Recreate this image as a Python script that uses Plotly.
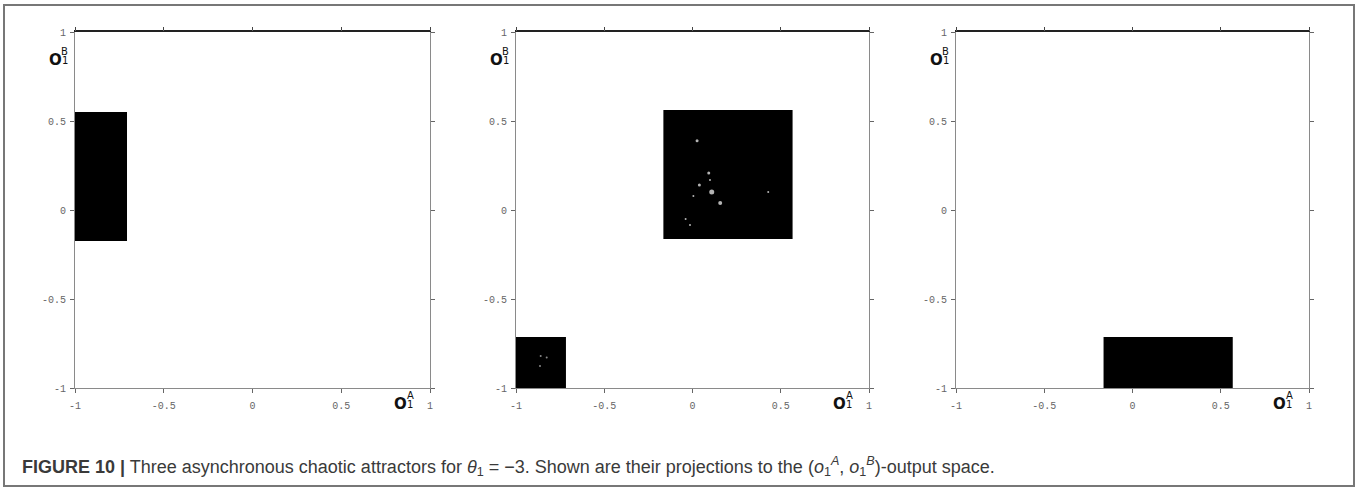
import plotly.graph_objects as go

# ---- data ----
tick_vals = [-1, -0.5, 0, 0.5, 1]
tick_text = ["-1", "-0.5", "0", "0.5", "1"]

# attractor regions per panel: (x_min, x_max, y_min, y_max)
panel1_x = [[-1.0, -0.707]]
panel1_y = [[-0.174, 0.551]]
panel2_x = [[-0.165, 0.567], [-1.0, -0.717]]
panel2_y = [[-0.163, 0.562], [-1.0, -0.713]]
panel3_x = [[-0.164, 0.568]]
panel3_y = [[-1.0, -0.713]]

# white gaps (unvisited points) inside panel 2 attractors
gaps2_x = [0.026, 0.092, 0.099, 0.039, 0.109, 0.005, 0.157, -0.039, -0.014, 0.429]
gaps2_y = [0.389, 0.208, 0.169, 0.140, 0.101, 0.079, 0.039, -0.051, -0.084, 0.101]
gaps2_s = [3, 3, 2, 3, 5, 2, 4, 2, 2, 2]
gaps2b_x = [-0.860, -0.826, -0.864]
gaps2b_y = [-0.820, -0.828, -0.876]

caption_bold = "FIGURE 10 |"
caption_text = (" Three asynchronous chaotic attractors for <i>θ</i><sub>1</sub> = −3. "
                "Shown are their projections to the (<i>o</i><sub>1</sub><sup><i>A</i></sup>, "
                "<i>o</i><sub>1</sub><sup><i>B</i></sup>)-output space.")

W, H = 1359, 492
fig = go.Figure()

panels = [(panel1_x, panel1_y), (panel2_x, panel2_y), (panel3_x, panel3_y)]
for i, (px, py) in enumerate(panels):
    xa = "x" if i == 0 else f"x{i+1}"
    ya = "y" if i == 0 else f"y{i+1}"
    for rx, ry in zip(px, py):
        fig.add_trace(go.Scatter(
            x=[rx[0], rx[1], rx[1], rx[0], rx[0]],
            y=[ry[0], ry[0], ry[1], ry[1], ry[0]],
            fill="toself", fillcolor="black", mode="lines",
            line=dict(width=0, color="black"),
            xaxis=xa, yaxis=ya, showlegend=False, hoverinfo="skip"))

fig.add_trace(go.Scatter(x=gaps2_x, y=gaps2_y, mode="markers",
                         marker=dict(color="white", size=gaps2_s, line=dict(width=0)),
                         xaxis="x2", yaxis="y2", showlegend=False, hoverinfo="skip"))
fig.add_trace(go.Scatter(x=gaps2b_x, y=gaps2b_y, mode="markers",
                         marker=dict(color="#888", size=2, line=dict(width=0)),
                         xaxis="x2", yaxis="y2", showlegend=False, hoverinfo="skip"))

# panel pixel geometry
px_left = [75, 516, 956]
px_right = [430, 869, 1309]
top_px, bot_px = 32, 388
ydom = [1 - bot_px / H, 1 - top_px / H]

tickfont = dict(family="Liberation Mono", size=10, color="#666")
axis_common = dict(range=[-1, 1], tickvals=tick_vals, ticktext=tick_text,
                   showgrid=False, zeroline=False, showline=True,
                   linecolor="#8a8a8a", linewidth=1, ticks="outside",
                   ticklen=4, tickcolor="#666", tickwidth=1, tickfont=tickfont,
                   fixedrange=True, automargin=False)

layout = dict(width=W, height=H, margin=dict(l=0, r=0, t=0, b=0, autoexpand=False),
              paper_bgcolor="white", plot_bgcolor="white", showlegend=False,
              template="none")

for i in range(3):
    sx = "" if i == 0 else str(i + 1)
    xd = [px_left[i] / W, px_right[i] / W]
    layout[f"xaxis{sx}"] = dict(axis_common, domain=xd, anchor=f"y{sx}", mirror="ticks",
                                ticklabelstandoff=4)
    layout[f"yaxis{sx}"] = dict(axis_common, domain=ydom, anchor=f"x{sx}", mirror="ticks",
                                ticklabelstandoff=2)

# darker top axis lines (overlay axes)
for i in range(3):
    sx = "" if i == 0 else str(i + 1)
    n = 4 + i
    xd = [px_left[i] / W, px_right[i] / W]
    layout[f"xaxis{n}"] = dict(range=[-1, 1], domain=xd, overlaying=f"x{sx}",
                               anchor=f"y{sx}", side="top", showline=True,
                               linecolor="#222", linewidth=1.5, showgrid=False,
                               zeroline=False, tickvals=tick_vals, ticks="outside",
                               ticklen=3, tickcolor="#444", showticklabels=False,
                               fixedrange=True, automargin=False)
    fig.add_trace(go.Scatter(x=[None], y=[None], xaxis=f"x{n}", yaxis=f"y{sx}",
                             showlegend=False, hoverinfo="skip"))

fig.update_layout(**layout)


def pt(px_, py_):
    return px_ / W, 1 - py_ / H


annotations = []
big = dict(family="DejaVu Sans", size=15, color="#111")
small = dict(family="DejaVu Sans", size=10, color="#111")
for i in range(3):
    L, R = px_left[i], px_right[i]
    items = [
        ("<b>O</b>", L - 19.5, top_px + 27.5, big),
        ("B", L - 10.5, top_px + 19.5, small),
        ("1", L - 10.5, top_px + 28.5, small),
        ("<b>O</b>", R - 29.5, bot_px + 15.5, big),
        ("A", R - 20, bot_px + 7.5, small),
        ("1", R - 20, bot_px + 16.5, small),
    ]
    for txt, xx, yy, f in items:
        ax_, ay_ = pt(xx, yy)
        annotations.append(dict(xref="paper", yref="paper", x=ax_, y=ay_, text=txt,
                                showarrow=False, xanchor="center", yanchor="middle",
                                font=f))

cx, cy = pt(20, 466)
annotations.append(dict(xref="paper", yref="paper", x=cx, y=cy,
                        xanchor="left", yanchor="middle", showarrow=False,
                        text=f"<b>{caption_bold}</b>{caption_text}",
                        font=dict(family="Liberation Sans", size=18, color="#3a3a3a")))
fig.update_layout(annotations=annotations)

# outer frame of the figure panel
fx0, fy1 = pt(4, 5)
fx1, fy0 = pt(1354, 486)
fig.add_shape(type="rect", xref="paper", yref="paper",
              x0=fx0, x1=fx1, y0=fy0, y1=fy1,
              line=dict(color="#777", width=2), fillcolor="rgba(0,0,0,0)", layer="below")

fig.write_html("out.html")
